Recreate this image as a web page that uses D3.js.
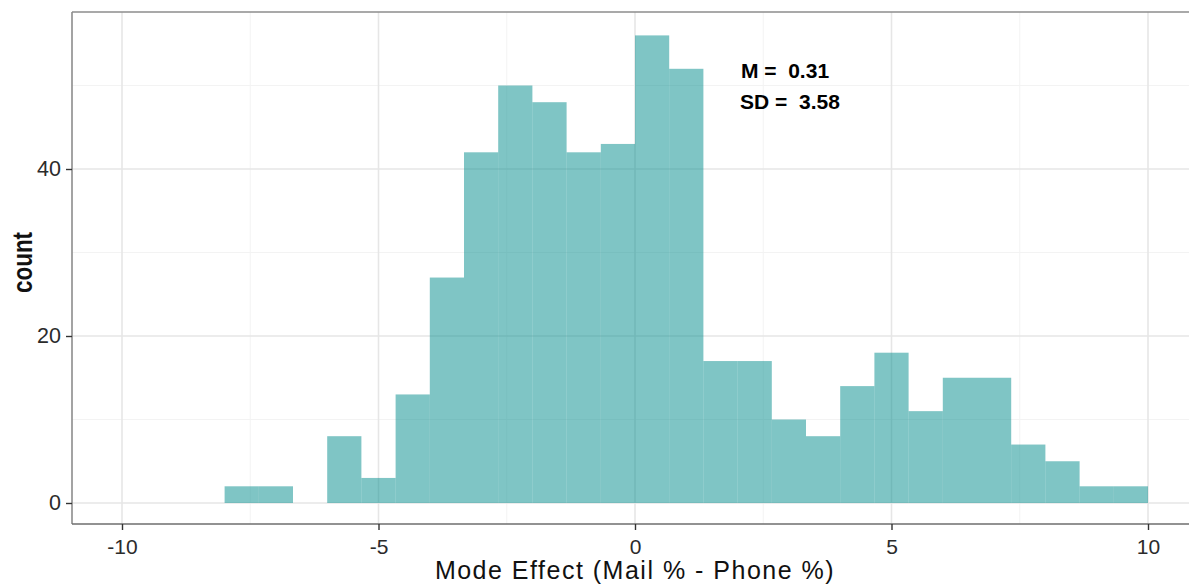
<!DOCTYPE html>
<html><head><meta charset="utf-8">
<script src="https://cdn.jsdelivr.net/npm/d3@7"></script>
<style>body{margin:0;background:#fff;}svg{display:block;font-family:"Liberation Sans",Arial,sans-serif;}</style>
</head><body>
<svg id="chart" width="1189" height="588"></svg>
<script>
const binEdges = [-8,-22/3,-20/3,-6,-16/3,-14/3,-4,-10/3,-8/3,-2,-4/3,-2/3,0,2/3,4/3,2,8/3,10/3,4,14/3,16/3,6,20/3,22/3,8,26/3,28/3,10];
const counts = [2,2,0,8,3,13,27,42,50,48,42,43,56,52,17,17,10,8,14,18,11,15,15,7,5,2,2];
const xTicks = [-10,-5,0,5,10];
const xMinor = [-7.5,-2.5,2.5,7.5];
const yTicks = [0,20,40];
const yMinor = [10,30,50];
const annot = ["M =  0.31","SD =  3.58"];

const svg = d3.select("#chart");
const L = 72, T = 12, R = 1189, B = 524;
const x = d3.scaleLinear().domain([-10,10]).range([122,1148]);
const y = d3.scaleLinear().domain([0,40]).range([503,169]);

const g = svg.append("g");
// minor grid
g.selectAll(".xm").data(xMinor).join("line").attr("x1",d=>x(d)).attr("x2",d=>x(d)).attr("y1",T).attr("y2",B).attr("stroke","#f3f3f3").attr("stroke-width",1);
g.selectAll(".ym").data(yMinor).join("line").attr("y1",d=>y(d)).attr("y2",d=>y(d)).attr("x1",L).attr("x2",R).attr("stroke","#f3f3f3").attr("stroke-width",1);
// major grid
g.selectAll(".xg").data(xTicks).join("line").attr("x1",d=>x(d)).attr("x2",d=>x(d)).attr("y1",T).attr("y2",B).attr("stroke","#e6e6e6").attr("stroke-width",1.6);
g.selectAll(".yg").data(yTicks).join("line").attr("y1",d=>y(d)).attr("y2",d=>y(d)).attr("x1",L).attr("x2",R).attr("stroke","#e6e6e6").attr("stroke-width",1.6);

// bars
const bins = counts.map((c,i)=>({x0:binEdges[i],x1:binEdges[i+1],c}));
g.selectAll(".bar").data(bins.filter(d=>d.c>0)).join("rect")
  .attr("x",d=>x(d.x0)).attr("width",d=>x(d.x1)-x(d.x0))
  .attr("y",d=>y(d.c)).attr("height",d=>y(0)-y(d.c))
  .attr("fill","#008B8B").attr("fill-opacity",0.5);

// panel border
svg.append("line").attr("x1",L).attr("x2",R).attr("y1",T).attr("y2",T).attr("stroke","#8c8c8c").attr("stroke-width",1.6);
svg.append("line").attr("x1",L).attr("x2",L).attr("y1",T).attr("y2",B).attr("stroke","#8c8c8c").attr("stroke-width",1.6);
svg.append("line").attr("x1",L).attr("x2",R).attr("y1",B).attr("y2",B).attr("stroke","#6e6e6e").attr("stroke-width",1.6);

const tickFont = "Liberation Sans, Arial, sans-serif";
// x axis
const xa = svg.append("g").attr("transform",`translate(0,${B})`)
  .call(d3.axisBottom(x).tickValues(xTicks).tickSize(6).tickPadding(9).tickFormat(d=>d<0?"-"+Math.abs(d):d));
xa.select(".domain").remove();
xa.selectAll(".tick line").attr("stroke","#333").attr("stroke-width",1.4);
xa.selectAll("text").attr("font-size",21).attr("fill","#2b2b2b").attr("font-family",tickFont);

// y axis
const ya = svg.append("g").attr("transform",`translate(${L},0)`)
  .call(d3.axisLeft(y).tickValues(yTicks).tickSize(6).tickPadding(5));
ya.select(".domain").remove();
ya.selectAll(".tick line").attr("stroke","#333").attr("stroke-width",1.4);
ya.selectAll("text").attr("font-size",21.5).attr("fill","#2b2b2b").attr("font-family",tickFont);

// titles
svg.append("text").attr("x",x(0)).attr("y",579).attr("text-anchor","middle").attr("font-size",25)
  .attr("letter-spacing",1.5).attr("fill","#111").text("Mode Effect (Mail % - Phone %)");
svg.append("text").attr("transform","translate(31.5,262.5) rotate(-90) scale(1,1.2)").attr("text-anchor","middle")
  .attr("font-size",22.5).attr("font-weight","bold").attr("fill","#111").text("count");

// annotation
svg.append("text").attr("x",785).attr("y",78).attr("text-anchor","middle").attr("font-size",21).attr("font-weight","bold")
  .attr("fill","#000").style("white-space","pre").text(annot[0]);
svg.append("text").attr("x",790).attr("y",109).attr("text-anchor","middle").attr("font-size",21).attr("font-weight","bold")
  .attr("fill","#000").style("white-space","pre").text(annot[1]);
</script>
</body></html>
